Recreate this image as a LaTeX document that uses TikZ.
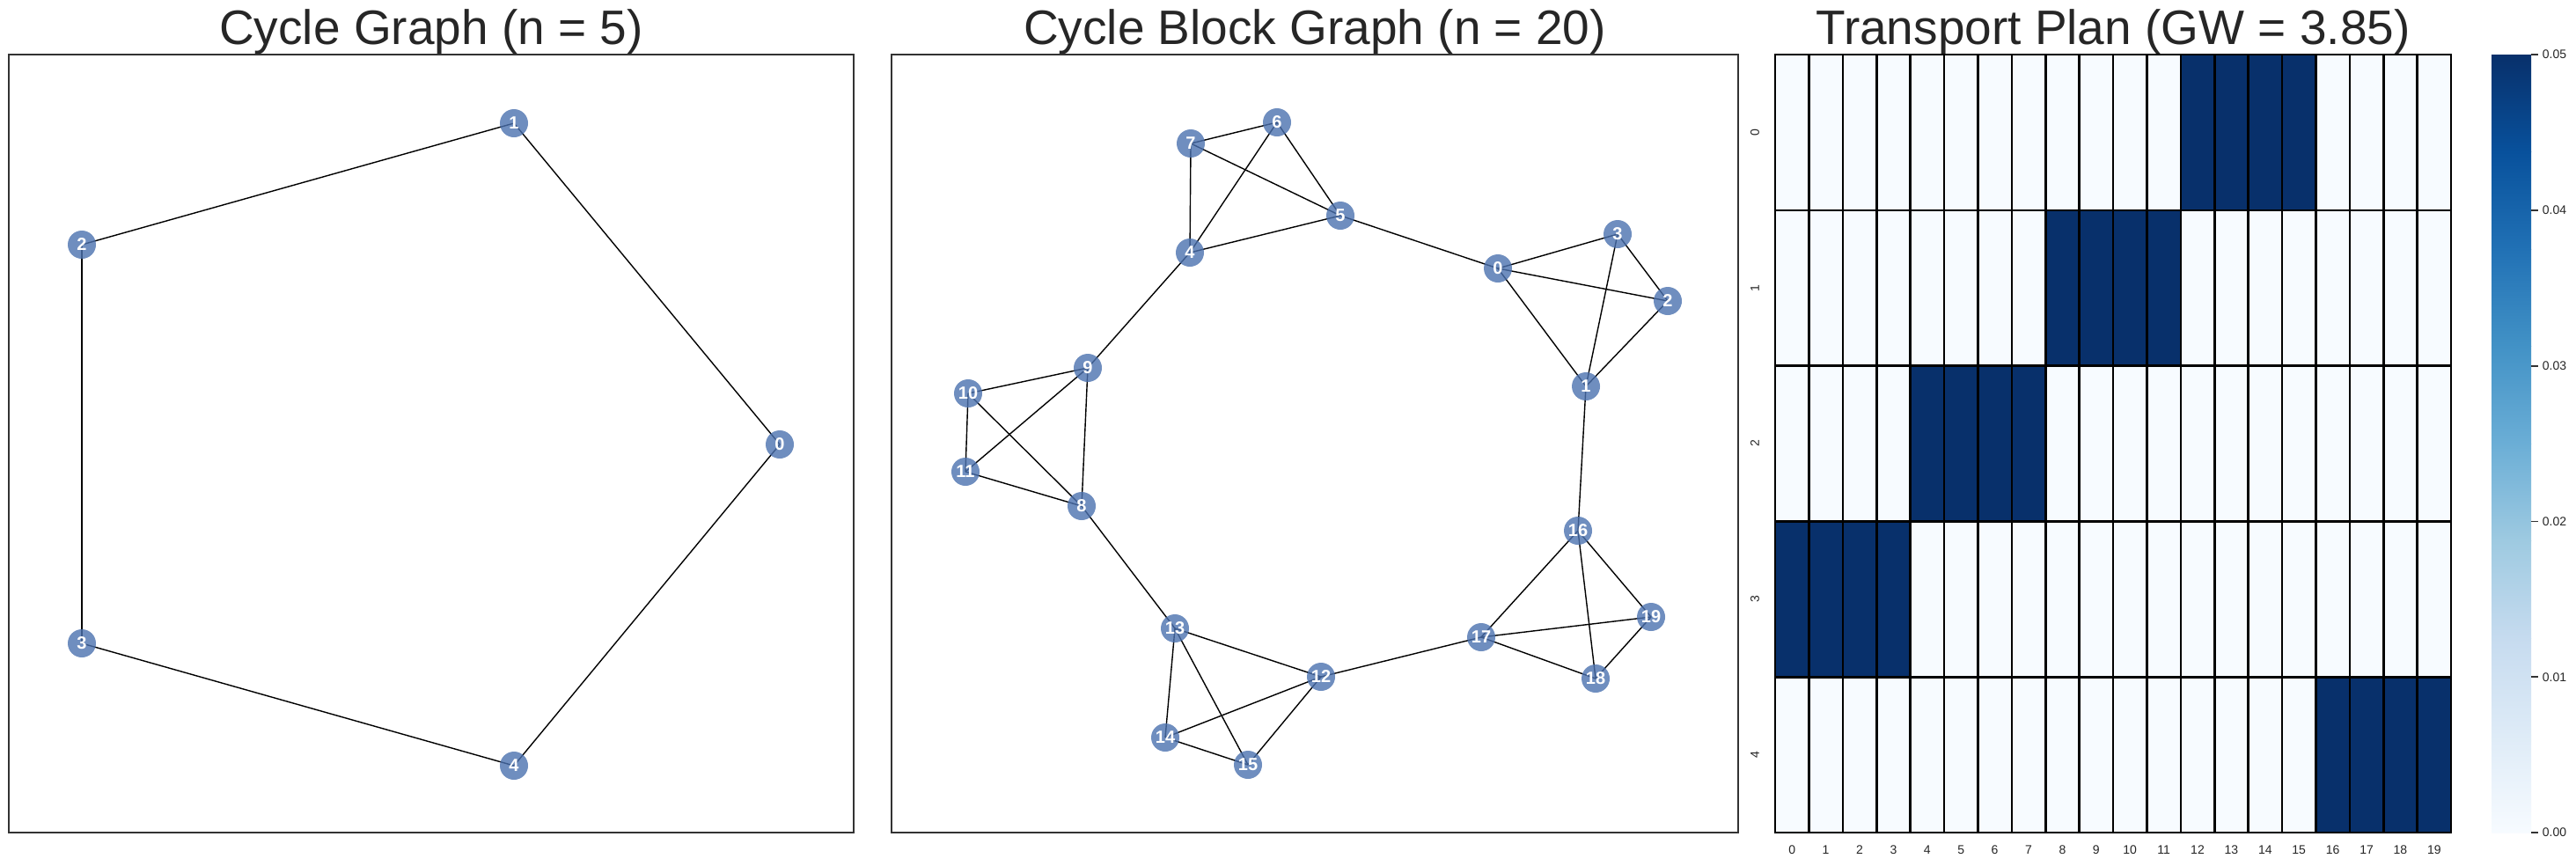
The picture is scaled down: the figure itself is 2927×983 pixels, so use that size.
\documentclass[tikz,border=0pt]{standalone}
\usepackage{fontspec}
\setmainfont{Liberation Sans}
\usetikzlibrary{backgrounds}
\definecolor{nodeblue}{HTML}{4C72B0}
\definecolor{cellDark}{HTML}{08306B}
\definecolor{cellLight}{HTML}{F7FBFF}
\definecolor{txt}{HTML}{262626}
\definecolor{frameC}{HTML}{333333}
\definecolor{cb0}{HTML}{F7FBFF}
\definecolor{cb1}{HTML}{DEEBF7}
\definecolor{cb2}{HTML}{C6DBEF}
\definecolor{cb3}{HTML}{9ECAE1}
\definecolor{cb4}{HTML}{6BAED6}
\definecolor{cb5}{HTML}{4292C6}
\definecolor{cb6}{HTML}{2171B5}
\definecolor{cb7}{HTML}{08519C}
\definecolor{cb8}{HTML}{08306B}
\begin{document}
\begin{tikzpicture}[x=1pt,y=-1pt,
  gnode/.style={circle,minimum size=32pt,inner sep=0pt,fill=nodeblue,fill opacity=0.8,text opacity=1,text=white,font=\bfseries\fontsize{20pt}{22pt}\selectfont},
  gedge/.style={black,line width=1.4pt},
  frameBox/.style={draw=frameC,line width=2.2pt},
  titleText/.style={anchor=base,text=txt,inner sep=0pt,font=\fontsize{55pt}{60pt}\selectfont},
  tickText/.style={text=txt,inner sep=0pt,font=\fontsize{14pt}{16pt}\selectfont},
  gridLine/.style={black,line width=2.6pt},
  cbTick/.style={frameC,line width=1.8pt}
]
\useasboundingbox (0,0) rectangle (2927,983);
\begin{pgfonlayer}{background}
\fill[white] (0,0) rectangle (2927,983);
\end{pgfonlayer}

% ---------- titles ----------
\node[titleText] (t1) at (490,50) {Cycle Graph (n = 5)};
\node[titleText] (t2) at (1494,50) {Cycle Block Graph (n = 20)};
\node[titleText] (t3) at (2401,50) {Transport Plan (GW = 3.85)};

% ---------- frames ----------
\draw[frameBox] (10,62) rectangle (970,946);
\draw[frameBox] (1013,62) rectangle (1975,946);

% ---------- left graph ----------
\node[gnode] (a0) at (886,505) {0};
\node[gnode] (a1) at (584,140) {1};
\node[gnode] (a2) at (93,278) {2};
\node[gnode] (a3) at (93,731) {3};
\node[gnode] (a4) at (584,870) {4};
\begin{pgfonlayer}{background}
\foreach \u/\v in {0/1,1/2,2/3,3/4,4/0}
  \draw[gedge] (a\u.center) -- (a\v.center);
\end{pgfonlayer}

% ---------- middle graph ----------
\node[gnode] (b0) at (1702,305) {0};
\node[gnode] (b1) at (1802,439) {1};
\node[gnode] (b2) at (1895,342) {2};
\node[gnode] (b3) at (1838,266) {3};
\node[gnode] (b4) at (1352,287) {4};
\node[gnode] (b5) at (1523,245) {5};
\node[gnode] (b6) at (1451,139) {6};
\node[gnode] (b7) at (1353,163) {7};
\node[gnode] (b8) at (1229,575) {8};
\node[gnode] (b9) at (1236,418) {9};
\node[gnode] (b10) at (1100,447) {10};
\node[gnode] (b11) at (1097,536) {11};
\node[gnode] (b12) at (1501,769) {12};
\node[gnode] (b13) at (1335,714) {13};
\node[gnode] (b14) at (1324,838) {14};
\node[gnode] (b15) at (1418,869) {15};
\node[gnode] (b16) at (1793,603) {16};
\node[gnode] (b17) at (1683,724) {17};
\node[gnode] (b18) at (1813,771) {18};
\node[gnode] (b19) at (1876,701) {19};
\begin{pgfonlayer}{background}
\foreach \k in {0,4,8,12,16}{
  \pgfmathtruncatemacro{\ka}{\k+1}
  \pgfmathtruncatemacro{\kb}{\k+2}
  \pgfmathtruncatemacro{\kc}{\k+3}
  \draw[gedge] (b\k.center) -- (b\ka.center);
  \draw[gedge] (b\k.center) -- (b\kb.center);
  \draw[gedge] (b\k.center) -- (b\kc.center);
  \draw[gedge] (b\ka.center) -- (b\kb.center);
  \draw[gedge] (b\ka.center) -- (b\kc.center);
  \draw[gedge] (b\kb.center) -- (b\kc.center);
}
\foreach \u/\v in {0/5,4/9,8/13,12/17,16/1}
  \draw[gedge] (b\u.center) -- (b\v.center);
\end{pgfonlayer}

% ---------- heatmap ----------
\fill[cellLight] (2017,62) rectangle (2785,946);
\foreach \r/\cs in {0/12,1/8,2/4,3/0,4/16}
  \fill[cellDark] ({2017+\cs*38.4},{62+\r*176.8}) rectangle ++(153.6,176.8);
\foreach \c in {0,...,20}
  \draw[gridLine] ({2017+\c*38.4},62) -- ({2017+\c*38.4},946);
\foreach \r in {0,...,5}
  \draw[gridLine] (2017,{62+\r*176.8}) -- (2785,{62+\r*176.8});
\draw[gridLine,line join=miter] (2017,62) rectangle (2785,946);
\foreach \r in {0,...,4}
  \node[tickText,rotate=90] (rl\r) at (1994,{62+(\r+0.5)*176.8}) {\r};
\foreach \c in {0,...,19}
  \node[tickText] (cl\c) at ({2017+(\c+0.5)*38.4},966) {\c};

% ---------- colorbar ----------
\foreach \i/\ca/\cbb in {0/cb0/cb1,1/cb1/cb2,2/cb2/cb3,3/cb3/cb4,4/cb4/cb5,5/cb5/cb6,6/cb6/cb7,7/cb7/cb8}
  \shade[bottom color=\ca,top color=\cbb] (2831,{946-\i*110.5+0.4}) rectangle (2876,{946-(\i+1)*110.5});
\foreach \v/\lab in {0/0.00,1/0.01,2/0.02,3/0.03,4/0.04,5/0.05}
  \draw[cbTick] (2876,{946-\v*176.8}) -- ++(8,0) node[tickText,anchor=west,xshift=4pt] (cbl\v) {\lab};
\end{tikzpicture}
\end{document}
